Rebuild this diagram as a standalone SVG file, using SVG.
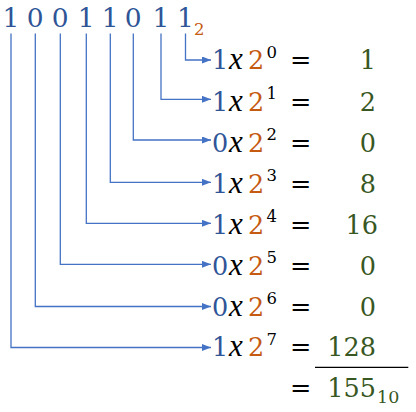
<svg xmlns="http://www.w3.org/2000/svg" width="416" height="412" viewBox="0 0 416 412">
<style>
text{font-family:"DejaVu Serif","Liberation Serif",serif;font-size:25.5px}
.b{fill:#2F5597}.o{fill:#C55A11}.g{fill:#385723}.k{fill:#000}
.i{font-family:"Liberation Serif",serif;font-style:italic;font-size:31px}
.s{font-size:16.5px}
.r{text-anchor:end}
.c{fill:none;stroke:#4472C4;stroke-width:1.3}
</style>
<defs>
<marker id="ah" markerUnits="userSpaceOnUse" markerWidth="10" markerHeight="8" refX="9" refY="3.5" orient="auto">
<path d="M0,0 L9,3.5 L0,7 Z" fill="#4472C4"/>
</marker>
</defs>
<rect width="416" height="412" fill="#fff"/>
<g id="binary">
<text class="b" x="11 35.3 60.3 86.3 110.3 133.3 161 185.5" y="27" text-anchor="middle" style="font-size:26.5px">10011011</text>
<text class="o s" x="194" y="34.5">2</text>
</g>
<g id="connectors">
<path class="c" marker-end="url(#ah)" d="M185.5,33.5 V60 H211"/>
<path class="c" marker-end="url(#ah)" d="M161,33.5 V99.3 H211"/>
<path class="c" marker-end="url(#ah)" d="M133.3,33.5 V140 H211"/>
<path class="c" marker-end="url(#ah)" d="M110.3,33.5 V182.3 H211"/>
<path class="c" marker-end="url(#ah)" d="M86.3,33.5 V223.3 H211"/>
<path class="c" marker-end="url(#ah)" d="M60.3,33.5 V264.3 H211"/>
<path class="c" marker-end="url(#ah)" d="M35.3,33.5 V306.5 H211"/>
<path class="c" marker-end="url(#ah)" d="M11,33.5 V347.5 H211"/>
</g>
<g id="row0">
<text class="b" x="212" y="69">1</text><text class="k i" x="229" y="69">x</text><text class="o" x="248" y="69">2</text><text class="k s" x="266.5" y="57.5">0</text>
<text class="k" x="290" y="69">=</text><text class="g r" x="376" y="69">1</text>
</g>
<g id="row1">
<text class="b" x="212" y="110.5">1</text><text class="k i" x="229" y="110.5">x</text><text class="o" x="248" y="110.5">2</text><text class="k s" x="266.5" y="99">1</text>
<text class="k" x="290" y="110.5">=</text><text class="g r" x="376" y="110.5">2</text>
</g>
<g id="row2">
<text class="b" x="212" y="151.5">0</text><text class="k i" x="229" y="151.5">x</text><text class="o" x="248" y="151.5">2</text><text class="k s" x="266.5" y="140">2</text>
<text class="k" x="290" y="151.5">=</text><text class="g r" x="376" y="151.5">0</text>
</g>
<g id="row3">
<text class="b" x="212" y="192.5">1</text><text class="k i" x="229" y="192.5">x</text><text class="o" x="248" y="192.5">2</text><text class="k s" x="266.5" y="181">3</text>
<text class="k" x="290" y="192.5">=</text><text class="g r" x="376" y="192.5">8</text>
</g>
<g id="row4">
<text class="b" x="212" y="233.5">1</text><text class="k i" x="229" y="233.5">x</text><text class="o" x="248" y="233.5">2</text><text class="k s" x="266.5" y="222">4</text>
<text class="k" x="290" y="233.5">=</text><text class="g r" x="378" y="233.5">16</text>
</g>
<g id="row5">
<text class="b" x="212" y="274.5">0</text><text class="k i" x="229" y="274.5">x</text><text class="o" x="248" y="274.5">2</text><text class="k s" x="266.5" y="263">5</text>
<text class="k" x="290" y="274.5">=</text><text class="g r" x="376" y="274.5">0</text>
</g>
<g id="row6">
<text class="b" x="212" y="315.7">0</text><text class="k i" x="229" y="315.7">x</text><text class="o" x="248" y="315.7">2</text><text class="k s" x="266.5" y="304.2">6</text>
<text class="k" x="290" y="315.7">=</text><text class="g r" x="376" y="315.7">0</text>
</g>
<g id="row7">
<text class="b" x="212" y="356">1</text><text class="k i" x="229" y="356">x</text><text class="o" x="248" y="356">2</text><text class="k s" x="266.5" y="344.5">7</text>
<text class="k" x="290" y="356">=</text><text class="g r" x="376" y="356">128</text>
</g>
<g id="sum">
<line x1="315" y1="367.3" x2="408.3" y2="367.3" stroke="#000" stroke-width="1.2"/>
<text class="k" x="290" y="397">=</text><text class="g r" x="376" y="397">155</text><text class="g" x="377" y="403" style="font-size:17.5px">10</text>
</g>
</svg>
